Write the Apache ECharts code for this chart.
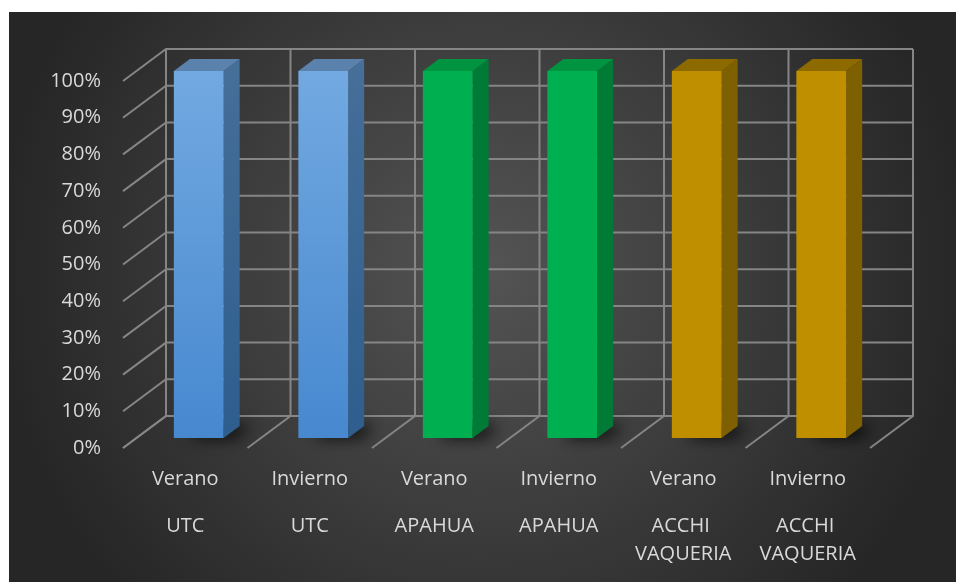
<!DOCTYPE html>
<html>
<head>
<meta charset="utf-8">
<script src="https://cdn.jsdelivr.net/npm/echarts@6/dist/echarts.min.js"></script>
<style>
  body { margin: 0; background: #fff; }
  #chart { position: absolute; left: 9px; top: 12px; width: 947px; height: 570px; }
</style>
</head>
<body>
<div id="chart"></div>
<script>
  // data
  const categories = ['Verano', 'Invierno', 'Verano', 'Invierno', 'Verano', 'Invierno'];
  const groups = ['UTC', 'UTC', 'APAHUA', 'APAHUA', 'ACCHI VAQUERIA', 'ACCHI VAQUERIA'];
  const values = [1, 1, 1, 1, 1, 1];
  const yTicks = [0, 0.1, 0.2, 0.3, 0.4, 0.5, 0.6, 0.7, 0.8, 0.9, 1];

  // colours per group: [front top, front bottom, side top, side bottom, top face]
  const palette = {
    'UTC': ['#72a9e1', '#4788cf', '#466f99', '#2e5e8e', '#5b82ad'],
    'APAHUA': ['#00b050', '#00b050', '#007a35', '#007a35', '#009441'],
    'ACCHI VAQUERIA': ['#bf8f00', '#bf8f00', '#7f6000', '#7f6000', '#8c6a00']
  };

  // 3d look: back wall offset, bar depth
  const DX = 43, DY = -32;
  const BOX_DX = 16, BOX_DY = -12;
  const gridColor = '#858585';
  const textColor = '#d9d9d9';
  const font = 'Open Sans';

  function edges(api) {
    const bw = api.size([1, 0])[0];
    const left = api.coord([0, 0])[0] - bw / 2;
    const right = api.coord([categories.length - 1, 0])[0] + bw / 2;
    return { bw, left, right };
  }

  // left wall diagonals + back wall horizontal lines
  function renderWall(params, api) {
    const e = edges(api);
    const y = api.coord([0, api.value(1)])[1];
    return {
      type: 'polyline',
      shape: { points: [[e.left, y], [e.left + DX, y + DY], [e.right + DX, y + DY]] },
      style: { stroke: gridColor, lineWidth: 2, fill: null }
    };
  }

  // floor diagonals + back wall verticals
  function renderFloor(params, api) {
    const e = edges(api);
    const i = api.value(0);
    const y0 = api.coord([i, 0])[1];
    const y1 = api.coord([i, 1])[1];
    const line = (x) => ({
      type: 'polyline',
      shape: { points: [[x, y0], [x + DX, y0 + DY], [x + DX, y1 + DY]] },
      style: { stroke: gridColor, lineWidth: 2, fill: null }
    });
    const x = api.coord([i, 0])[0] - e.bw / 2;
    const children = [line(x)];
    if (i === categories.length - 1) children.push(line(x + e.bw));
    return { type: 'group', children };
  }

  function renderBar(params, api) {
    const i = api.value(0);
    const base = api.coord([i, 0]);
    const top = api.coord([i, api.value(1)]);
    const bw = api.size([1, 0])[0];
    const w = bw * 0.4;
    const cx = base[0] + DX / 2 - BOX_DX / 2;
    const xl = cx - w / 2, xr = cx + w / 2;
    const yb = base[1] + DY / 2 - BOX_DY / 2;
    const yt = top[1] + DY / 2 - BOX_DY / 2;
    const c = palette[groups[i]];
    const sideFill = new echarts.graphic.LinearGradient(0, 0, 0, 1, [{ offset: 0, color: c[2] }, { offset: 1, color: c[3] }]);
    return {
      type: 'group',
      children: [
        {
          // footprint, hidden behind the bar, only its blurred shadow shows
          type: 'polygon',
          shape: { points: [[xl + 2, yb - 1], [xr, yb - 1], [xr + BOX_DX - 1, yb + BOX_DY], [xl + BOX_DX, yb + BOX_DY]] },
          style: { fill: '#000', shadowBlur: 16, shadowColor: 'rgba(0,0,0,1)', shadowOffsetX: 12, shadowOffsetY: 0 }
        },
        {
          type: 'polygon',
          shape: { points: [[xr, yb], [xr + BOX_DX, yb + BOX_DY], [xr + BOX_DX, yt + BOX_DY], [xr, yt]] },
          style: { fill: sideFill }
        },
        {
          type: 'polygon',
          shape: { points: [[xl, yt], [xl + BOX_DX, yt + BOX_DY], [xr + BOX_DX, yt + BOX_DY], [xr, yt]] },
          style: { fill: c[4] }
        },
        {
          type: 'rect',
          shape: { x: xl, y: yt, width: w, height: yb - yt },
          style: { fill: new echarts.graphic.LinearGradient(0, 0, 0, 1, [{ offset: 0, color: c[0] }, { offset: 1, color: c[1] }]) }
        }
      ]
    };
  }

  const chart = echarts.init(document.getElementById('chart'));
  chart.setOption({
    backgroundColor: {
      type: 'radial', x: 0.5, y: 0.45, r: 0.85,
      colorStops: [{ offset: 0, color: '#545454' }, { offset: 1, color: '#262626' }]
    },
    animation: false,
    grid: { left: 114, right: 86, top: 69, bottom: 134 },
    xAxis: [
      {
        type: 'category', data: categories, position: 'bottom',
        axisLine: { show: false }, axisTick: { show: false }, splitLine: { show: false },
        axisLabel: { interval: 0, margin: 19, color: textColor, fontFamily: font, fontSize: 20, lineHeight: 24 }
      },
      {
        type: 'category', data: groups, position: 'bottom',
        axisLine: { show: false }, axisTick: { show: false }, splitLine: { show: false },
        axisLabel: { interval: 0, margin: 64, color: textColor, fontFamily: font, fontSize: 20, lineHeight: 28, width: 115, overflow: 'break' }
      }
    ],
    yAxis: {
      type: 'value', min: 0, max: 1, interval: 0.1,
      axisLine: { show: false }, axisTick: { show: false }, splitLine: { show: false },
      axisLabel: { margin: 22, color: textColor, fontFamily: font, fontSize: 20, formatter: (v) => Math.round(v * 100) + '%' }
    },
    series: [
      { type: 'custom', name: 'walls', renderItem: renderWall, data: yTicks.map((v) => [0, v]), silent: true },
      { type: 'custom', name: 'floor', renderItem: renderFloor, data: categories.map((c, i) => [i, 0]), silent: true },
      { type: 'custom', name: 'bars', renderItem: renderBar, data: values.map((v, i) => [i, v]) }
    ]
  });
</script>
</body>
</html>
